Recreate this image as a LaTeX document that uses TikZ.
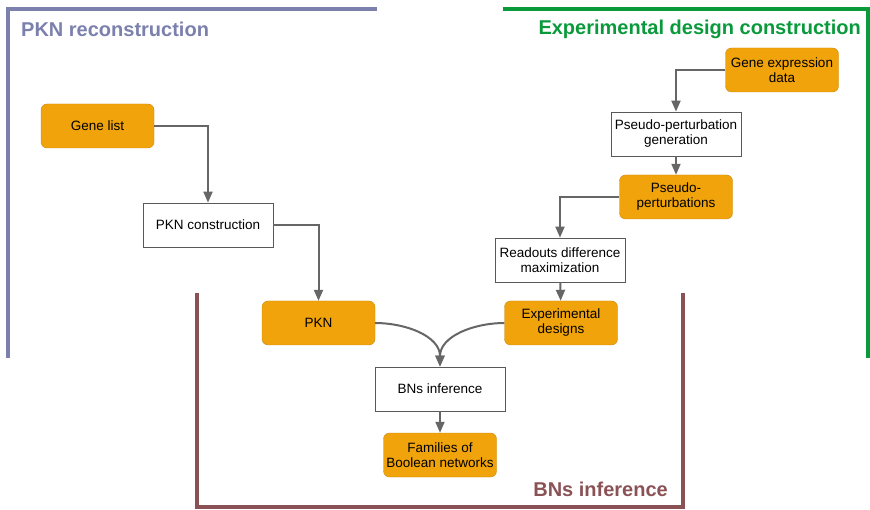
\documentclass[tikz,border=0pt]{standalone}
\usepackage{fontspec}
\setmainfont{Liberation Sans}
\usetikzlibrary{arrows.meta,shapes}
\definecolor{dataorange}{HTML}{F0A30A}
\definecolor{databorder}{HTML}{C98A10}
\definecolor{pkncolor}{HTML}{7B80AD}
\definecolor{expcolor}{HTML}{0A9A3C}
\definecolor{bnscolor}{HTML}{8B5256}
\definecolor{arrowgray}{HTML}{666666}
\tikzstyle{datanode}=[rectangle,rounded corners=6pt,draw=databorder,fill=dataorange,minimum width=113pt,minimum height=44pt,inner sep=1pt,align=center,font=\fontsize{13.5}{15}\selectfont]
\tikzstyle{stepnode}=[rectangle,draw=black!65,line width=0.8pt,fill=white,minimum width=130pt,minimum height=44pt,inner sep=1pt,align=center,font=\fontsize{13.5}{15}\selectfont]
\tikzstyle{edge} = [draw,line width=2pt,arrowgray,-{Triangle[length=11pt,width=9pt]}]
\tikzstyle{frame} = [line width=4pt]
\tikzstyle{title} = [font=\bfseries\fontsize{20}{22}\selectfont,inner sep=0pt]

\begin{document}
\begin{tikzpicture}[x=1pt,y=-1pt]
    \useasboundingbox (0,0) rectangle (870,510);
    % Frames of the three stages
    \draw[frame,pkncolor] (8,358) -- (8,9) -- (377,9);
    \draw[frame,expcolor,line width=3.5pt] (503,9) -- (868,9) -- (868,358);
    \draw[frame,bnscolor] (197,293) -- (197,507) -- (683,507) -- (683,293);
    \node[title,pkncolor,anchor=west] (pkntitle) at (21,29) {PKN reconstruction};
    \node[title,expcolor,anchor=east] (exptitle) at (861,29) {Experimental design construction};
    \node[title,bnscolor,anchor=east] (bnstitle) at (668,489) {BNs inference};
    % Data nodes
    \foreach \pos/\name/\text in {{(97.5,126)/genelist/Gene list},
                            {(318.5,323)/pkn/PKN},
                            {(782,70)/geneexpr/Gene expression\\data},
                            {(676,197)/pseudopert/Pseudo-\\perturbations},
                            {(561,323)/expdesigns/Experimental\\designs},
                            {(440,455)/families/Families of\\Boolean networks}}
        \node[datanode] (\name) at \pos {\text};
    % Processing steps
    \foreach \pos/\name/\text in {{(208,225)/pkncons/PKN construction},
                            {(676,134)/pseudogen/Pseudo-perturbation\\generation},
                            {(560,260)/readouts/Readouts difference\\maximization},
                            {(440,389)/bnsinf/BNs inference}}
        \node[stepnode] (\name) at \pos {\text};
    % Connect them
    \foreach \source/\dest in {genelist/pkncons, pkncons/pkn, geneexpr/pseudogen, pseudopert/readouts}
        \path[edge] (\source) -| (\dest);
    \foreach \source/\dest in {pseudogen/pseudopert, readouts/expdesigns, bnsinf/families}
        \path[edge] (\source) -- (\dest);
    \path[edge] (pkn.east) to[out=0,in=90] (bnsinf.north);
    \path[edge] (expdesigns.west) to[out=180,in=90] (bnsinf.north);
\end{tikzpicture}
\end{document}
